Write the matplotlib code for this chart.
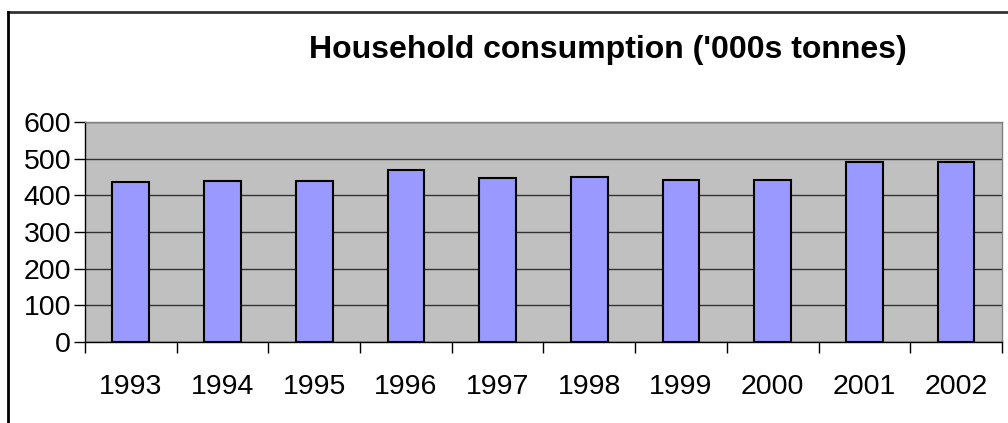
import matplotlib
matplotlib.use("Agg")
from matplotlib import pyplot as plt
from matplotlib.lines import Line2D
import numpy as np

# Data
years = ["1993", "1994", "1995", "1996", "1997", "1998", "1999", "2000", "2001", "2002"]
consumption = [435, 438, 438, 469, 447, 449, 443, 442, 491, 491]
y_ticks = [0, 100, 200, 300, 400, 500, 600]

plt.rcParams['font.family'] = ['Liberation Sans', 'DejaVu Sans']

fig = plt.figure(figsize=(10.08, 4.23), dpi=100)
ax = fig.add_axes([0.0843, 0.1915, 0.9097, 0.5201])

x = np.arange(len(years))
ax.bar(x, consumption, width=0.4, color='#9999FF', edgecolor='black', linewidth=1.5, zorder=3)

ax.set_facecolor('#C0C0C0')
ax.set_xlim(-0.5, len(years) - 0.5)
ax.set_ylim(0, 600)
ax.set_yticks(y_ticks)
ax.set_yticklabels([str(v) for v in y_ticks], fontsize=20.5)
ax.yaxis.grid(True, color='#333333', linewidth=1, zorder=1)
ax.set_axisbelow(True)

# year labels in the middle, tick marks between categories
ax.set_xticks(x)
ax.set_xticklabels(years, fontsize=20.5)
ax.tick_params(axis='x', which='major', length=0, pad=23)
ax.set_xticks(np.arange(-0.5, len(years)), minor=True)
ax.tick_params(axis='x', which='minor', length=8, width=1, color='black', direction='out')
ax.tick_params(axis='y', length=8, width=1, pad=2, direction='out')

for side in ['top', 'right']:
    ax.spines[side].set_color('#808080')
    ax.spines[side].set_linewidth(1)
for side in ['left', 'bottom']:
    ax.spines[side].set_color('black')
    ax.spines[side].set_linewidth(1)

fig.text(0.603, 1 - 58 / 423, "Household consumption ('000s tonnes)", ha='center', va='baseline',
         fontsize=23, fontweight='bold')

# chart border (cropped on right and bottom)
fig.add_artist(Line2D([8 / 1008, 1], [1 - 12 / 423, 1 - 12 / 423], color='#333333', linewidth=2))
fig.add_artist(Line2D([8 / 1008, 8 / 1008], [0, 1 - 12 / 423], color='black', linewidth=2))

fig.savefig('out.png', dpi=100, facecolor='white')
